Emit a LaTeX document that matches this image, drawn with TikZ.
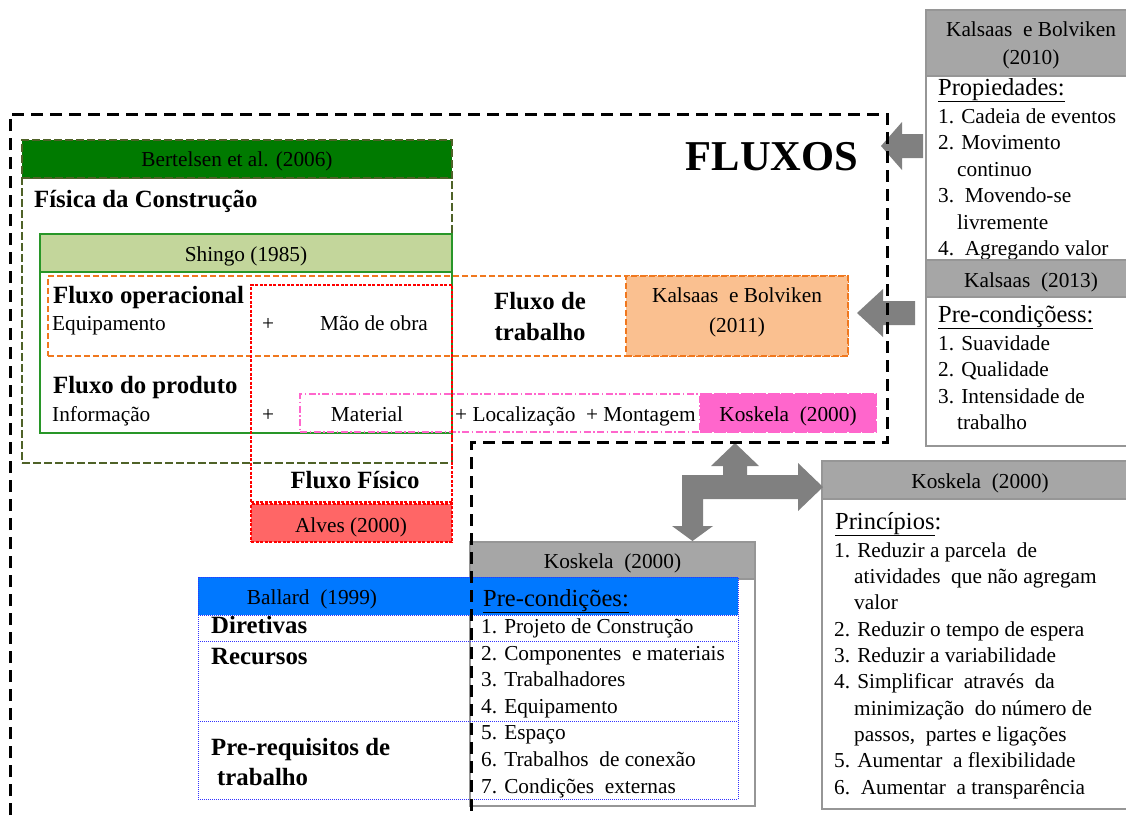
\documentclass[tikz,border=0pt]{standalone}
\usepackage{fontspec}
\setmainfont{Liberation Serif}
\usetikzlibrary{fit}
\definecolor{dkgreen}{RGB}{0,122,0}
\definecolor{olivel}{RGB}{79,98,40}
\definecolor{shingof}{RGB}{195,214,155}
\definecolor{shingol}{RGB}{40,150,40}
\definecolor{orangel}{RGB}{240,120,30}
\definecolor{orangef}{RGB}{250,192,144}
\definecolor{redl}{RGB}{255,0,0}
\definecolor{redf}{RGB}{255,102,102}
\definecolor{pinkl}{RGB}{255,102,204}
\definecolor{grayf}{RGB}{166,166,166}
\definecolor{grayl}{RGB}{150,150,150}
\definecolor{arrowg}{RGB}{128,128,128}
\definecolor{bluef}{RGB}{0,120,255}
\definecolor{bluel}{RGB}{50,50,255}
\begin{document}
\begin{tikzpicture}[x=1pt,y=-1pt,
  tx/.style={font=\fontsize{21.3}{24}\selectfont, inner sep=0pt, anchor=base west},
  txc/.style={tx, anchor=base},
  bt/.style={font=\fontsize{24.8}{29}\selectfont\bfseries, inner sep=0pt, anchor=base west},
  btc/.style={bt, anchor=base},
  hdt/.style={font=\fontsize{24.5}{29}\selectfont, inner sep=0pt, anchor=base west},
  rb/.style={inner sep=0pt, outer sep=0pt, rectangle},
  olivebox/.style={rb, draw=olivel, line width=1.2pt, dash pattern=on 8pt off 3pt},
  greenbox/.style={rb, draw=shingol, line width=1.5pt},
  orangebox/.style={rb, draw=orangel, line width=1.5pt, dash pattern=on 6pt off 3pt},
  pinkbox/.style={rb, draw=pinkl, line width=1.2pt, dash pattern=on 7pt off 2.5pt on 1.5pt off 2.5pt},
  redbox/.style={rb, draw=redl, line width=1.2pt, dash pattern=on 3pt off 1.5pt},
  graybox/.style={rb, draw=grayl, line width=1.5pt},
  bluebox/.style={rb, draw=bluel, line width=0.8pt, dash pattern=on 1pt off 1pt},
  blockarrow/.style={fill=arrowg, draw=none},
  bigdash/.style={line width=3pt, dash pattern=on 12pt off 7pt}
]
\useasboundingbox (0,0) rectangle (1126,815);
\clip (0,0) rectangle (1126,815);

% ---- Bertelsen / Shingo / flows ----
\node[olivebox, fit={(22,178) (452,463)}] (bertbody) {};
\node[olivebox, fill=dkgreen, fit={(22,140) (452,178)}] (berthead) {};
\node[greenbox, fit={(40,234) (452,433)}] (shingo) {};
\node[greenbox, fill=shingof, fit={(40,234) (452,272)}] (shingohead) {};
\node[orangebox, fit={(48,276) (848,356)}] (oper) {};
\node[orangebox, fill=orangef, fit={(626,276) (848,356)}] (kb11) {};
\node[pinkbox, fit={(300,394) (876,432)}] (prod) {};
\node[pinkbox, fill=pinkl, fit={(700,394) (876,432)}] (kos1) {};
\node[redbox, fit={(251,285) (452,502)}] (fis) {};
\node[redbox, fill=redf, fit={(251,504) (452,542)}] (alves) {};

\node[txc] (tbert) at (237,166) {Bertelsen et al. (2006)};
\node[bt] (tfisc) at (34,207) {Física da Construção};
\node[txc] (tshingo) at (246,261) {Shingo (1985)};
\node[bt] (tfop) at (53,303) {Fluxo operacional};
\node[tx] (tequip) at (52,330) {Equipamento};
\node[tx] (tplus1) at (262,330) {+};
\node[txc] (tmao) at (374,330) {Mão de obra};
\node[btc] (tft1) at (540,309) {Fluxo de};
\node[btc] (tft2) at (540,340) {trabalho};
\node[txc] (tkb11a) at (737,302) {Kalsaas\ \ e Bolviken};
\node[txc] (tkb11b) at (737,332) {(2011)};
\node[bt] (tfpr) at (53,393) {Fluxo do produto};
\node[tx] (tinfo) at (52,421) {Informação};
\node[tx] (tplus2) at (262,421) {+};
\node[txc] (tmat) at (367,421) {Material};
\node[tx] (tloc) at (455,421) {+ Localização\ \ + Montagem};
\node[txc] (tkos1) at (788,421) {Koskela\ \ (2000)};
\node[btc] (tffis) at (355,488) {Fluxo Físico};
\node[txc] (talves) at (351,532) {Alves (2000)};
\node[font=\fontsize{42.5}{48}\selectfont\bfseries, inner sep=0pt, anchor=base] (tfluxos) at (772,170) {FLUXOS};

% ---- Right panel: Kalsaas e Bolviken (2010) ----
\node[graybox, fit={(926,76) (1140,260)}] (kb10body) {};
\node[graybox, fill=grayf, fit={(926,10) (1140,76)}] (kb10head) {};
\node[txc] (tkb10a) at (1031,36) {Kalsaas\ \ e Bolviken};
\node[txc] (tkb10b) at (1031,64) {(2010)};
\node[hdt] (tprop) at (938,95) {\underline{Propiedades:}};
\foreach \xx/\yy/\tt [count=\i] in {938/123/{1. Cadeia de eventos},938/149.5/{2. Movimento},957/176/{continuo},938/202.5/{3.\ \ Movendo-se},957/229/{livremente},938/255.5/{4.\ \ Agregando valor}}
  \node[tx] (kbl\i) at (\xx,\yy) {\tt};

% ---- Kalsaas (2013) ----
\node[graybox, fit={(926,297) (1140,446)}] (k13body) {};
\node[graybox, fill=grayf, fit={(926,260) (1140,297)}] (k13head) {};
\node[txc] (tk13) at (1031,287) {Kalsaas\ \ (2013)};
\node[hdt] (tprec1) at (938,322) {\underline{Pre-condiçõess:}};
\foreach \xx/\yy/\tt [count=\i] in {938/350/{1. Suavidade},938/376.5/{2. Qualidade},938/403/{3. Intensidade de},957/429.5/{trabalho}}
  \node[tx] (k13l\i) at (\xx,\yy) {\tt};

% ---- Koskela (2000) principles ----
\node[graybox, fit={(822,499) (1140,809)}] (prbody) {};
\node[graybox, fill=grayf, fit={(822,461) (1140,499)}] (prhead) {};
\node[txc] (tkos2) at (980,488) {Koskela\ \ (2000)};
\node[hdt] (tprinc) at (835,529) {\underline{Princípios}:};
\foreach \xx/\yy/\tt [count=\i] in {834/557/{1. Reduzir a parcela\ \ de},854/583/{atividades\ \ que não agregam},854/609/{valor},834/636/{2. Reduzir o tempo de espera},834/662/{3. Reduzir a variabilidade},834/688/{4. Simplificar\ \ através\ \ da},854/715/{minimização\ \ do número de},854/741/{passos,\ \ partes e ligações},834/767/{5. Aumentar\ \ a flexibilidade},834/794/{6.\ \ Aumentar\ \ a transparência}}
  \node[tx] (prl\i) at (\xx,\yy) {\tt};

% ---- Koskela (2000) pre-conditions + Ballard (1999) ----
\node[graybox, fit={(470,579) (755,806)}] (kcbody) {};
\node[graybox, fill=grayf, fit={(470,542) (755,579)}] (kchead) {};
\node[bluebox, fill=bluef, fit={(198,577) (738,615)}] (ballhead) {};
\node[bluebox, fit={(198,577) (738,799)}] (ballard) {};
\coordinate (r1l) at (198,641); \coordinate (r1r) at (738,641);
\coordinate (r2l) at (198,721); \coordinate (r2r) at (738,721);
\draw[bluel, line width=0.8pt, dash pattern=on 1pt off 1pt] (r1l) -- (r1r);
\draw[bluel, line width=0.8pt, dash pattern=on 1pt off 1pt] (r2l) -- (r2r);
\node[txc] (tkos3) at (612.5,568) {Koskela\ \ (2000)};
\node[txc] (tball) at (312,604) {Ballard\ \ (1999)};
\node[hdt] (tprec2) at (483,606) {\underline{Pre-condições:}};
\foreach \xx/\yy/\tt [count=\i] in {481/633/{1. Projeto de Construção},481/660/{2. Componentes\ \ e materiais},481/686/{3. Trabalhadores},481/713/{4. Equipamento},481/739/{5. Espaço},481/766/{6. Trabalhos\ \ de conexão},481/793/{7. Condições\ \ externas}}
  \node[tx] (kcl\i) at (\xx,\yy) {\tt};
\node[bt] (tdir) at (211,633) {Diretivas};
\node[bt] (trec) at (211,664) {Recursos};
\node[bt] (tpre1) at (211,755) {Pre-requisitos de};
\node[bt] (tpre2) at (217,785) {trabalho};

% ---- block arrows ----
\fill[blockarrow] (881,146) -- (902,122) -- (902,134) -- (923,134) -- (923,158) -- (902,158) -- (902,170) -- cycle;
\fill[blockarrow] (857,313) -- (883,289) -- (883,301) -- (915,301) -- (915,325) -- (883,325) -- (883,337) -- cycle;
\fill[blockarrow] (735,443) -- (759,466) -- (747,466) -- (747,475) -- (798,475) -- (798,463) -- (823,487) -- (798,511) -- (798,499) -- (703,499) -- (703,526) -- (713,526) -- (692.5,541) -- (672,526) -- (682,526) -- (682,475) -- (723,475) -- (723,466) -- (711,466) -- cycle;

% ---- big dashed boundary ----
\draw[bigdash] (10,815) -- (10,114) -- (887,114) -- (887,442.5) -- (471,442.5) -- (471,815);
\end{tikzpicture}
\end{document}
